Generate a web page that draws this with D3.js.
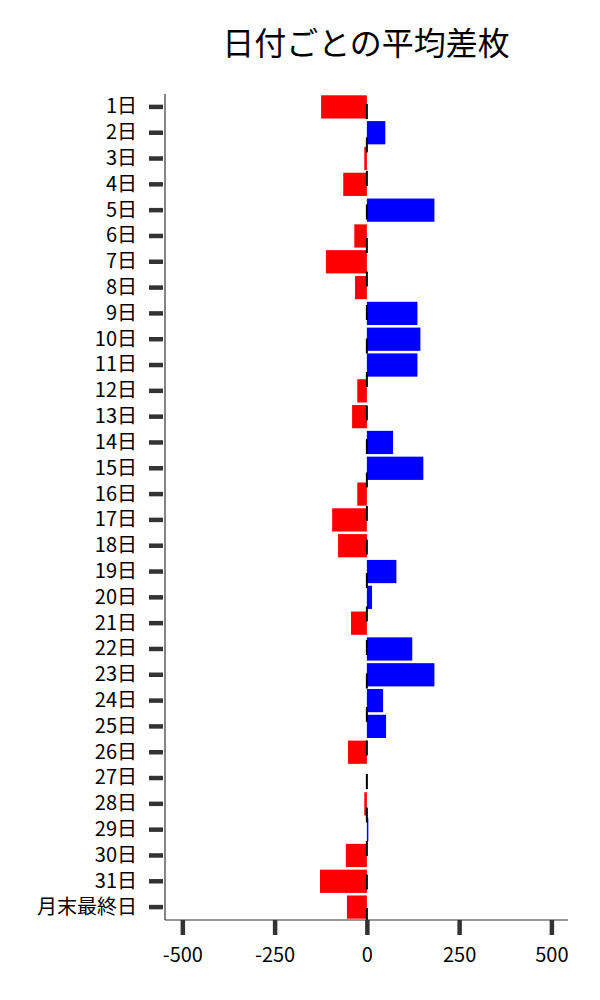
<!DOCTYPE html>
<html>
<head>
<meta charset="utf-8">
<script src="https://cdn.jsdelivr.net/npm/d3@7"></script>
<style>
  body { margin: 0; background: #fff; }
  text { font-family: "Noto Sans CJK JP", "Noto Sans", sans-serif; }
</style>
</head>
<body>
<svg id="chart" width="600" height="1000"></svg>
<script>
// data
const days = ['1日','2日','3日','4日','5日','6日','7日','8日','9日','10日',
  '11日','12日','13日','14日','15日','16日','17日','18日','19日','20日',
  '21日','22日','23日','24日','25日','26日','27日','28日','29日','30日',
  '31日','月末最終日']
const diffs = [-124, 50, -7, -64, 183, -34, -111, -32, 137, 145,
  137, -26, -40, 71, 153, -26, -94, -78, 80, 14,
  -43, 123, 183, 44, 52, -51, 0, -7, 4, -57,
  -127, -54]
const xTicks = [-500, -250, 0, 250, 500]

const margin = { top: 94, left: 165, right: 32, bottom: 80 }
const width = 600 - margin.left - margin.right
const height = 920 - margin.top

const svg = d3.select('#chart')
const g = svg.append('g')
  .attr('transform', `translate(${margin.left}, ${margin.top})`)

// scales
const x = d3.scaleLinear()
  .domain([-547, 545])
  .range([0, width])

const y = d3.scaleBand()
  .domain(days)
  .range([0, height])
  .paddingInner(0.1)
  .paddingOuter(0.05)

// bars
g.selectAll('rect.bar')
  .data(days.map((d, i) => ({ day: d, value: diffs[i] })))
  .enter()
  .append('rect')
  .attr('class', 'bar')
  .attr('x', d => x(Math.min(0, d.value)))
  .attr('y', d => y(d.day))
  .attr('width', d => Math.abs(x(d.value) - x(0)))
  .attr('height', y.bandwidth())
  .attr('fill', d => d.value < 0 ? '#ff0000' : '#0000ff')

// zero line (dashed)
g.append('line')
  .attr('x1', x(0)).attr('x2', x(0))
  .attr('y1', 0).attr('y2', height)
  .attr('stroke', '#000')
  .attr('stroke-width', 2)
  .attr('stroke-dasharray', '15,18.5')
  .attr('stroke-dashoffset', 23.5)

// axes
const xAxis = g.append('g')
  .attr('transform', `translate(0, ${height})`)
  .call(d3.axisBottom(x).tickValues(xTicks).tickSize(15).tickPadding(13).tickFormat(d3.format('d')))
xAxis.select('.domain').attr('stroke', '#333').attr('stroke-width', 1.2)
  .attr('d', `M0,0H${width}`)
xAxis.selectAll('.tick line').attr('stroke', '#333').attr('stroke-width', 4.5)
xAxis.selectAll('.tick text')
  .attr('font-size', '20px')
  .attr('fill', '#000')
  .text(d => d < 0 ? '-' + Math.abs(d) : d)

const yAxis = g.append('g')
  .call(d3.axisLeft(y).tickSize(16).tickPadding(12))
yAxis.select('.domain').attr('stroke', '#333').attr('stroke-width', 1.2)
  .attr('d', `M0,0V${height}`)
yAxis.selectAll('.tick line').attr('stroke', '#333').attr('stroke-width', 4.5).attr('x2', -2).attr('x1', -16)
yAxis.selectAll('.tick text')
  .attr('font-size', '20px')
  .attr('fill', '#000')

// title
svg.append('text')
  .attr('x', 366)
  .attr('y', 55)
  .attr('text-anchor', 'middle')
  .attr('font-size', '32px')
  .attr('fill', '#000')
  .text('日付ごとの平均差枚')
</script>
</body>
</html>
